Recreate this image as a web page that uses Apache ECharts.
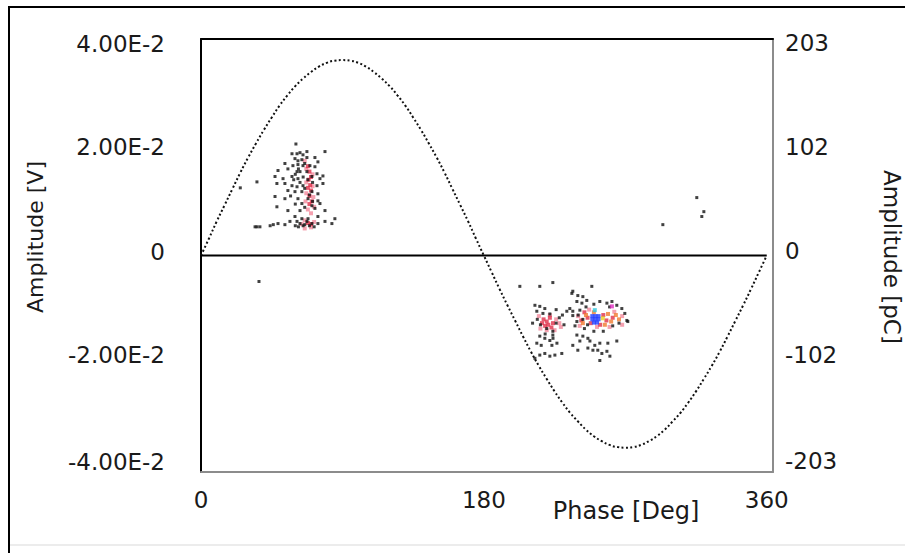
<!DOCTYPE html>
<html>
<head>
<meta charset="utf-8">
<script src="https://cdn.jsdelivr.net/npm/echarts@6.0.0/dist/echarts.min.js"></script>
<style>
  html, body { margin: 0; padding: 0; background: #ffffff; }
  #chart { width: 905px; height: 553px; }
</style>
</head>
<body>
<div id="chart"></div>
<script>
// ---------- data ----------
const xTickLabels = ['0', '180', '360'];
const leftTickLabels = { '-0.04': '-4.00E-2', '-0.02': '-2.00E-2', '0': '0', '0.02': '2.00E-2', '0.04': '4.00E-2' };
const rightTickLabels = { '-203': '-203', '-101.5': '-102', '0': '0', '101.5': '102', '203': '203' };

const sinePhase = [0,5,10,15,20,25,30,35,40,45,50,55,60,65,70,75,80,85,90,95,100,105,110,115,120,125,130,135,140,145,150,155,160,165,170,175,180,185,190,195,200,205,210,215,220,225,230,235,240,245,250,255,260,265,270,275,280,285,290,295,300,305,310,315,320,325,330,335,340,345,350,355,360];
const sineAmp = [0,0.0031,0.0063,0.0093,0.0123,0.0153,0.0181,0.0207,0.0232,0.0255,0.0277,0.0296,0.0313,0.0327,0.0339,0.0349,0.0356,0.0360,0.0361,0.0360,0.0356,0.0349,0.0339,0.0327,0.0313,0.0296,0.0277,0.0255,0.0232,0.0207,0.0181,0.0153,0.0123,0.0093,0.0063,0.0031,0,-0.0031,-0.0062,-0.0092,-0.0121,-0.0150,-0.0178,-0.0204,-0.0228,-0.0251,-0.0272,-0.0291,-0.0307,-0.0322,-0.0334,-0.0343,-0.0350,-0.0354,-0.0355,-0.0354,-0.0350,-0.0343,-0.0334,-0.0322,-0.0307,-0.0291,-0.0272,-0.0251,-0.0228,-0.0204,-0.0178,-0.0150,-0.0121,-0.0092,-0.0062,-0.0031,0];

const zeroPhase = [0, 360];
const zeroAmp = [0, 0];

// black pulse dots [phase deg, amplitude V]
const blackPoints = [
  [60.4,0.0206],[78.9,0.0192],
  [57.9,0.0188],[61.1,0.0188],[63.0,0.0190],[64.9,0.0186],[67.4,0.0192],
  [59.8,0.0179],[61.7,0.0175],[64.2,0.0177],[67.4,0.0181],[72.5,0.0181],[74.4,0.0173],
  [53.4,0.0170],[58.5,0.0166],[61.7,0.0168],[64.9,0.0166],[69.3,0.0166],[72.5,0.0164],
  [49.0,0.0157],[55.3,0.0160],[61.1,0.0155],[63.0,0.0155],[67.4,0.0155],[73.8,0.0151],[77.6,0.0147],
  [47.1,0.0146],[52.2,0.0142],[57.9,0.0146],[61.7,0.0142],[70.6,0.0146],[75.7,0.0142],
  [48.3,0.0133],[53.4,0.0133],[57.9,0.0129],[61.1,0.0127],[64.9,0.0129],[73.8,0.0129],[77.6,0.0133],
  [55.3,0.0120],[59.8,0.0118],[64.2,0.0118],[70.6,0.0118],[74.4,0.0114],
  [47.1,0.0109],[53.4,0.0105],[61.7,0.0105],[68.1,0.0105],[74.4,0.0101],
  [64.2,0.0096],[70.6,0.0092],[75.7,0.0096],
  [48.3,0.0090],[55.3,0.0083],[63.0,0.0083],[72.5,0.0087],[78.9,0.0083],
  [59.8,0.0072],[64.2,0.0068],[68.1,0.0068],[74.4,0.0072],[85.2,0.0068],
  [49.0,0.0059],[53.4,0.0057],[56.6,0.0063],[61.1,0.0063],[63.0,0.0059],[67.4,0.0063],[70.6,0.0059],[74.4,0.0059],[78.9,0.0063],[83.3,0.0059],
  [34.4,0.0053],[35.6,0.0053],[37.5,0.0053],[44.0,0.0055],[46.0,0.0057],[60.0,0.0055],[62.0,0.0053],[65.0,0.0055],[66.0,0.0057],[69.0,0.0055],[72.0,0.0053],
  [35.6,0.0136],[25.0,0.0125],
  [60.0,0.0150],[62.0,0.0160],[66.0,0.0170],[68.0,0.0140],[63.0,0.0135],[66.0,0.0124],[69.0,0.0112],[71.0,0.0100],[66.0,0.0089],[60.0,0.0095],[57.0,0.0110],[71.0,0.0135],[65.0,0.0145],[59.0,0.0140],
  [36.9,-0.0048],[293.9,0.0057],[315.5,0.0107],[320.0,0.0081],[318.7,0.0072],
  [202.9,-0.0057],[215.6,-0.0057],[223.9,-0.0050],[248.7,-0.0057],
  [236.0,-0.0070],[239.8,-0.0074],
  [212.5,-0.0092],[215.6,-0.0094],[218.8,-0.0098],
  [213.7,-0.0103],[217.6,-0.0107],
  [232.8,-0.0103],[236.6,-0.0111],[239.2,-0.0122],
  [215.6,-0.0149],[218.8,-0.0153],[222.0,-0.0157],
  [213.7,-0.0162],[216.5,-0.0166],[223.3,-0.0166],[226.5,-0.0162],
  [212.5,-0.0190],[215.6,-0.0184],[218.8,-0.0181],[222.0,-0.0186],[225.2,-0.0184],[229.6,-0.0181],
  [236.6,-0.0166],[239.8,-0.0175],
  [223.9,-0.0140],[223.9,-0.0147],[224.0,-0.0153],
  [236.6,-0.0066],[243.0,-0.0076],[239.2,-0.0085],[242.4,-0.0088],[245.5,-0.0083],
  [234.7,-0.0098],[236.6,-0.0103],[241.1,-0.0101],
  [253.8,-0.0085],[258.3,-0.0088],[261.5,-0.0085],[264.6,-0.0092],[267.8,-0.0098],[269.7,-0.0107],[271.0,-0.0120],[271.6,-0.0122],
  [239.2,-0.0147],[243.0,-0.0149],[246.2,-0.0153],[241.1,-0.0158],[247.5,-0.0158],[250.6,-0.0166],[253.8,-0.0162],
  [246.2,-0.0171],[249.4,-0.0175],[252.5,-0.0175],[255.1,-0.0181],[258.3,-0.0177],[258.9,-0.0162],[253.8,-0.0194],[260.2,-0.0186],[264.6,-0.0158],
  [240.0,-0.0110],[243.0,-0.0118],[246.0,-0.0128],[262.0,-0.0130],[266.0,-0.0125],[260.0,-0.0095],[250.0,-0.0090],[245.0,-0.0095],[256.0,-0.0140],[250.0,-0.0140],[244.0,-0.0135],[238.0,-0.0130],
  [214.0,-0.0118],[216.0,-0.0128],[220.0,-0.0135],[226.0,-0.0125],[228.0,-0.0115],[222.0,-0.0108],[226.0,-0.0100],[231.0,-0.0128],[230.0,-0.0110],[219.0,-0.0145],[211.0,-0.0125]
];

const redPoints = [
  [68.0,0.0165],[69.0,0.0155],[70.0,0.0145],[68.5,0.0140],[69.5,0.0130],[70.0,0.0120],[68.0,0.0125],[69.0,0.0110],[70.5,0.0100],[69.0,0.0095],[68.0,0.0060],[70.0,0.0058],
  [218,-0.0118],[220,-0.0122],[222,-0.0115],[221,-0.0128],[224,-0.0125],[219,-0.0130],[217,-0.0125],[223,-0.0133],
  [244,-0.0105],[246,-0.0115],[256,-0.0110],[258,-0.0120],[262,-0.0115],[248,-0.0125],[254,-0.0128],[242,-0.0120]
];
const pinkPoints = [
  [66.0,0.0175],[67.0,0.0160],[71.0,0.0150],[67.0,0.0135],[71.0,0.0128],[67.0,0.0115],[71.5,0.0108],[66.5,0.0100],[72.0,0.0090],[68.0,0.0085],[70.0,0.0078],[66.0,0.0065],[72.0,0.0062],[64.0,0.0058],[70.0,0.0052],[66.0,0.0050],
  [215,-0.0112],[226,-0.0118],[228,-0.0125],[216,-0.0135],[225,-0.0138],[229,-0.0132],[220,-0.0138],[222,-0.0110],
  [240,-0.0112],[268,-0.0112],[252,-0.0132],[260,-0.0132],[247,-0.0100],[263,-0.0104],[241,-0.0130],[268,-0.0128]
];
const orangePoints = [
  [245,-0.0110],[259,-0.0108],[264,-0.0110],[266,-0.0118],[243,-0.0125],[257,-0.0128],[261,-0.0122],[250,-0.0105]
];
const bluePoints = [
  [249,-0.0112],[251,-0.0112],[253,-0.0112],[249,-0.0118],[251,-0.0118],[253,-0.0118],[250,-0.0124],[252,-0.0124]
];
const cyanPoints = [[250.6,-0.0101]];
const magentaPoints = [[261.5,-0.0094]];
const yellowPoints = [[255.7,-0.0116]];

// ---------- styling ----------
const FONT = '"DejaVu Sans", Verdana, sans-serif';
const TICK_SIZE = 23;
// per-label vertical nudges (rich-text styles), matching the reference label placement
const leftLabelStyle = { '0.04': 'dn5', '0.02': 'n0', '0': 'up4', '-0.02': 'up9', '-0.04': 'up10' };
const rightLabelStyle = { '203': 'dn4', '101.5': 'n0', '0': 'up5', '-101.5': 'up9', '-203': 'up11' };
function richSet() {
  const base = { fontFamily: FONT, fontSize: TICK_SIZE, color: '#1a1a1a' };
  const r = {};
  const pads = { n0: [0,0,0,0], dn4: [8,0,0,0], dn5: [10,0,0,0], up4: [0,0,8,0], up5: [0,0,10,0], up9: [0,0,18,0], up10: [0,0,20,0], up11: [0,0,22,0] };
  Object.keys(pads).forEach(k => { r[k] = Object.assign({ padding: pads[k] }, base); });
  return r;
}

const chart = echarts.init(document.getElementById('chart'), null, { renderer: 'svg' });

function scatter(data, color, size, z) {
  return { type: 'scatter', data: data, symbol: 'rect', symbolSize: size,
           itemStyle: { color: color }, z: z, silent: true };
}

chart.setOption({
  animation: false,
  backgroundColor: '#ffffff',
  grid: { left: 201, right: 132, top: 39, bottom: 81, containLabel: false },
  xAxis: [
    { type: 'value', min: 0, max: 364, interval: 180, position: 'bottom',
      axisLine: { show: true, onZero: false, lineStyle: { color: '#8c8c8c', width: 2 } },
      axisTick: { show: false }, splitLine: { show: false },
      axisLabel: { show: true, margin: 16, showMaxLabel: false, color: '#1a1a1a', fontFamily: FONT, fontSize: TICK_SIZE,
                   formatter: function (v) { const i = [0, 180, 360].indexOf(v); return i >= 0 ? xTickLabels[i] : ''; } } },
    { type: 'value', min: 0, max: 364, position: 'top',
      axisLine: { show: true, onZero: false, lineStyle: { color: '#000000', width: 2 } },
      axisTick: { show: false }, splitLine: { show: false }, axisLabel: { show: false } }
  ],
  yAxis: [
    { type: 'value', min: -0.04, max: 0.04, interval: 0.02, position: 'left',
      axisLine: { show: true, onZero: false, lineStyle: { color: '#000000', width: 2 } },
      axisTick: { show: false }, splitLine: { show: false },
      axisLabel: { margin: 36, color: '#1a1a1a', fontFamily: FONT, fontSize: TICK_SIZE, rich: richSet(),
                   formatter: function (v) {
                     const k = String(Math.round(v * 100) / 100);
                     return leftTickLabels[k] !== undefined ? '{' + leftLabelStyle[k] + '|' + leftTickLabels[k] + '}' : '';
                   } } },
    { type: 'value', min: -203, max: 203, interval: 101.5, position: 'right',
      axisLine: { show: true, onZero: false, lineStyle: { color: '#8c8c8c', width: 2 } },
      axisTick: { show: false }, splitLine: { show: false },
      axisLabel: { margin: 12, color: '#1a1a1a', fontFamily: FONT, fontSize: TICK_SIZE, rich: richSet(),
                   formatter: function (v) {
                     const k = String(v);
                     return rightTickLabels[k] !== undefined ? '{' + rightLabelStyle[k] + '|' + rightTickLabels[k] + '}' : '';
                   } } }
  ],
  graphic: [
    { type: 'line', shape: { x1: 8, y1: 7, x2: 905, y2: 7 }, style: { stroke: '#000', lineWidth: 2 }, silent: true },
    { type: 'line', shape: { x1: 9, y1: 6, x2: 9, y2: 553 }, style: { stroke: '#000', lineWidth: 2 }, silent: true },
    { type: 'line', shape: { x1: 10, y1: 545, x2: 905, y2: 545 }, style: { stroke: '#ececec', lineWidth: 2 }, silent: true },
    { type: 'text', x: 35, y: 237, rotation: Math.PI / 2,
      style: { text: 'Amplitude [V]', align: 'center', verticalAlign: 'middle', fill: '#1a1a1a', font: '22px ' + FONT } },
    { type: 'text', x: 892, y: 257, rotation: -Math.PI / 2,
      style: { text: 'Amplitude [pC]', align: 'center', verticalAlign: 'middle', fill: '#1a1a1a', font: '23px ' + FONT } },
    { type: 'text', x: 626, y: 511,
      style: { text: 'Phase [Deg]', align: 'center', verticalAlign: 'middle', fill: '#1a1a1a', font: '24px ' + FONT } }
  ],
  series: [
    { type: 'line', data: sinePhase.map((p, i) => [p, sineAmp[i]]), smooth: true, showSymbol: false, silent: true,
      lineStyle: { color: '#111', width: 2, type: [2, 2.4] }, z: 2 },
    { type: 'line', data: zeroPhase.map((p, i) => [p, zeroAmp[i]]), showSymbol: false, silent: true,
      lineStyle: { color: '#000', width: 2 }, z: 3 },
    scatter(pinkPoints, '#f28a9c', 4, 4),
    scatter(redPoints, '#e0304a', 4, 5),
    scatter(orangePoints, '#f07a30', 4, 5),
    scatter(blackPoints, '#111111', 3, 6),
    scatter(bluePoints, '#1f3cff', 4, 7),
    scatter(cyanPoints, '#30c8e0', 4, 7),
    scatter(magentaPoints, '#e030c0', 4, 7),
    scatter(yellowPoints, '#e8d020', 4, 7)
  ]
});
</script>
</body>
</html>
